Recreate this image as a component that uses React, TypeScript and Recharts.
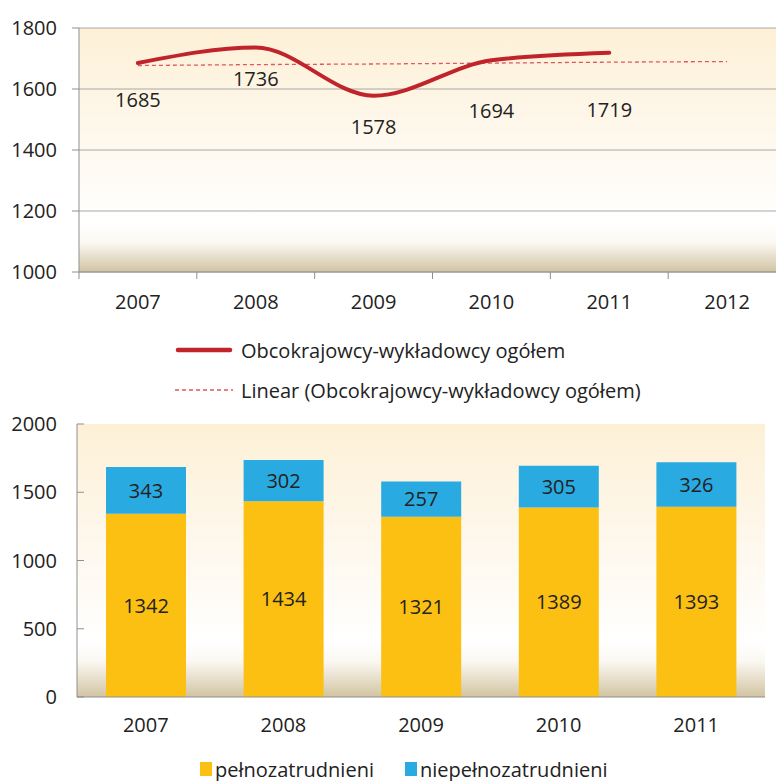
import { LineChart, Line, BarChart, Bar, XAxis, YAxis, CartesianGrid, LabelList, Legend } from 'recharts';

// values
const years = ['2007', '2008', '2009', '2010', '2011', '2012'];
const totals = [1685, 1736, 1578, 1694, 1719, null];
const trend = [1677, 1680, 1682, 1685, 1688, 1690];
const barYears = ['2007', '2008', '2009', '2010', '2011'];
const fullTime = [1342, 1434, 1321, 1389, 1393];
const partTime = [343, 302, 257, 305, 326];
const lineTicks = [1000, 1200, 1400, 1600, 1800];
const barTicks = [0, 500, 1000, 1500, 2000];

const FONT = '"Open Sans", sans-serif';
const TEXT = '#222';
const AXIS = '#8f8f8f';
const GRID = '#a8a8a8';
const RED = '#c1232b';
const TREND = '#e0575c';
const YELLOW = '#fbc012';
const BLUE = '#29aae1';
const FS = 20;

const lineData = years.map((year, i) => ({ year, total: totals[i], trend: trend[i] }));
const barData = barYears.map((year, i) => ({ year, full: fullTime[i], part: partTime[i] }));

// top chart plot is 707px wide, 6 bands
const topBand = 707 / 6;
// label offsets below each point (as placed in the original)
const labelDy = [37, 31, 31, 51, 57];

const TopXTick = (props: any) => {
  const { x, y, payload } = props;
  return (
    <g>
      <line x1={x - topBand / 2} x2={x - topBand / 2} y1={y} y2={y + 7} stroke={AXIS} />
      <text x={x} y={y + 37} textAnchor="middle" fill={TEXT} fontSize={FS} fontFamily={FONT}>
        {payload.value}
      </text>
    </g>
  );
};

const BottomXTick = (props: any) => {
  const { x, y, payload } = props;
  return (
    <text x={x} y={y + 35} textAnchor="middle" fill={TEXT} fontSize={FS} fontFamily={FONT}>
      {payload.value}
    </text>
  );
};

const BottomYTick = (props: any) => {
  const { x, y, payload } = props;
  return (
    <g>
      <line x1={x + 20} x2={x + 27} y1={y} y2={y} stroke={AXIS} />
      <text x={x} y={y} dy="0.35em" textAnchor="end" fill={TEXT} fontSize={FS} fontFamily={FONT}>
        {payload.value}
      </text>
    </g>
  );
};

const PointLabel = (props: any) => {
  const { x, y, value, index } = props;
  if (value == null) return null;
  return (
    <text x={x} y={y + labelDy[index]} dy="0.35em" textAnchor="middle" fill={TEXT} fontSize={FS} fontFamily={FONT}>
      {value}
    </text>
  );
};

const TopLegend = () => (
  <div style={{ fontFamily: FONT, fontSize: FS, color: TEXT }}>
    <div style={{ display: 'flex', alignItems: 'center', height: 40 }}>
      <svg width={58} height={10}>
        <line x1={3} x2={55} y1={5} y2={5} stroke={RED} strokeWidth={4.5} strokeLinecap="round" />
      </svg>
      <span style={{ marginLeft: 8 }}>Obcokrajowcy-wykładowcy ogółem</span>
    </div>
    <div style={{ display: 'flex', alignItems: 'center', height: 40 }}>
      <svg width={58} height={10}>
        <line x1={0} x2={58} y1={5} y2={5} stroke={TREND} strokeWidth={1.3} strokeDasharray="4 3" />
      </svg>
      <span style={{ marginLeft: 8 }}>Linear (Obcokrajowcy-wykładowcy ogółem)</span>
    </div>
  </div>
);

const BottomLegend = () => (
  <div style={{ display: 'flex', alignItems: 'center', height: 24, fontFamily: FONT, fontSize: FS, color: TEXT }}>
    <span style={{ width: 12, height: 14, background: YELLOW, display: 'inline-block' }} />
    <span style={{ marginLeft: 3 }}>pełnozatrudnieni</span>
    <span style={{ width: 12, height: 14, background: BLUE, display: 'inline-block', marginLeft: 31 }} />
    <span style={{ marginLeft: 3 }}>niepełnozatrudnieni</span>
  </div>
);

export default function App() {
  return (
    <div style={{ position: 'absolute', left: 0, top: 0, width: 776, height: 781, overflow: 'hidden', background: '#fff' }}>
      <div style={{ position: 'absolute', left: 0, top: 0 }}>
        <LineChart width={786} height={420} data={lineData} margin={{ top: 28, right: 0, bottom: 108, left: 0 }}>
          <defs>
            <linearGradient id="topBg" x1="0" y1="0" x2="0" y2="1">
              <stop offset="0" stopColor="#fdf0d6" />
              <stop offset="0.5" stopColor="#fef9f0" />
              <stop offset="0.8" stopColor="#ffffff" />
              <stop offset="0.88" stopColor="#fbf8f2" />
              <stop offset="1" stopColor="#d2c4a2" />
            </linearGradient>
          </defs>
          <CartesianGrid vertical={false} stroke={GRID} fill="url(#topBg)" fillOpacity={1} />
          <XAxis
            dataKey="year"
            height={40}
            padding={{ left: topBand / 2, right: topBand / 2 }}
            tickLine={false}
            tickSize={0}
            tickMargin={0}
            axisLine={{ stroke: AXIS }}
            tick={<TopXTick />}
            interval={0}
          />
          <YAxis
            width={79}
            domain={[1000, 1800]}
            ticks={lineTicks}
            tickSize={7}
            tickMargin={15}
            tickLine={{ stroke: AXIS }}
            axisLine={{ stroke: AXIS }}
            tick={{ fill: TEXT, fontSize: FS, fontFamily: FONT }}
          />
          <Line dataKey="trend" type="linear" stroke={TREND} strokeWidth={1.3} strokeDasharray="4 3" dot={false} isAnimationActive={false} />
          <Line dataKey="total" type="monotone" stroke={RED} strokeWidth={4} strokeLinecap="round" dot={false} isAnimationActive={false}>
            <LabelList dataKey="total" content={<PointLabel />} />
          </Line>
          <Legend layout="horizontal" verticalAlign="middle" align="center" wrapperStyle={{ top: 330, left: 175, width: 520 }} content={<TopLegend />} />
        </LineChart>
      </div>
      <div style={{ position: 'absolute', left: 0, top: 400 }}>
        <BarChart width={776} height={381} data={barData} margin={{ top: 24, right: 11, bottom: 44, left: 0 }}>
          <defs>
            <linearGradient id="botBg" x1="0" y1="0" x2="0" y2="1">
              <stop offset="0" stopColor="#fdf0d6" />
              <stop offset="0.5" stopColor="#fef9f0" />
              <stop offset="0.8" stopColor="#ffffff" />
              <stop offset="0.87" stopColor="#fbf8f2" />
              <stop offset="1" stopColor="#d2c4a2" />
            </linearGradient>
          </defs>
          <CartesianGrid horizontal={false} vertical={false} fill="url(#botBg)" fillOpacity={1} />
          <XAxis dataKey="year" height={40} tickLine={false} tickSize={0} tickMargin={0} axisLine={{ stroke: AXIS }} tick={<BottomXTick />} interval={0} />
          <YAxis width={77} domain={[0, 2000]} ticks={barTicks} tickSize={0} tickMargin={20} tickLine={false} axisLine={{ stroke: AXIS }} tick={<BottomYTick />} />
          <Bar dataKey="full" stackId="a" fill={YELLOW} barSize={80} isAnimationActive={false}>
            <LabelList dataKey="full" position="center" fill={TEXT} fontSize={FS} fontFamily={FONT} />
          </Bar>
          <Bar dataKey="part" stackId="a" fill={BLUE} barSize={80} isAnimationActive={false}>
            <LabelList dataKey="part" position="center" fill={TEXT} fontSize={FS} fontFamily={FONT} />
          </Bar>
          <Legend layout="horizontal" verticalAlign="middle" align="center" wrapperStyle={{ top: 357, left: 200, width: 520 }} content={<BottomLegend />} />
        </BarChart>
      </div>
    </div>
  );
}
